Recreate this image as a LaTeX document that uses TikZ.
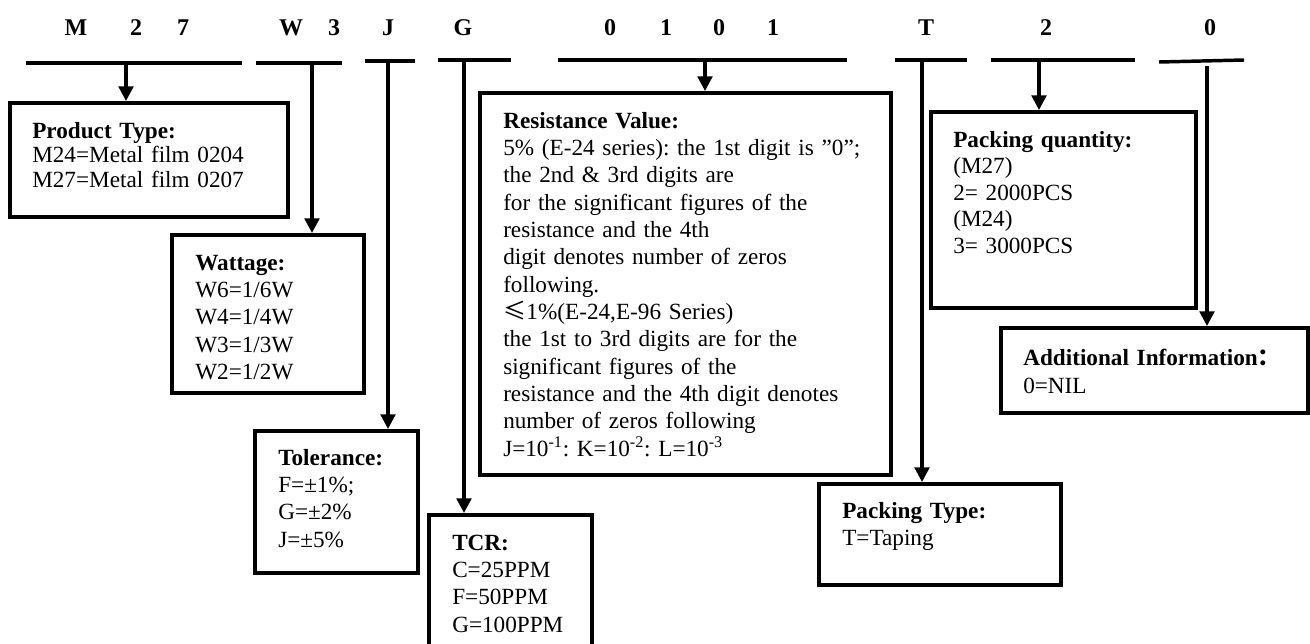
\documentclass[tikz,border=0pt]{standalone}
\usepackage{fontspec}
\setmainfont{Liberation Serif}
\newfontfamily\cjk{Noto Sans CJK SC}
\usetikzlibrary{arrows.meta,fit}
\frenchspacing
\begin{document}
\begin{tikzpicture}[x=0.75pt,y=-0.75pt,
  seg/.style={line width=2.6pt},
  box/.style={draw,line width=3pt,inner sep=0pt},
  arr/.style={line width=2.4pt,-{Triangle[width=11pt,length=11pt]}},
  txt/.style={anchor=base west,inner sep=0pt,text width=300pt,align=left,font=\fontsize{17.4}{20.5}\selectfont\frenchspacing},
  code/.style={font=\bfseries\fontsize{18}{20}\selectfont,inner sep=0pt,anchor=base}]
\useasboundingbox (0,0) rectangle (1310,643);
% code letters
\node[code] (l1) at (76,35) {M};
\node[code] (l2) at (136,35) {2};
\node[code] (l3) at (183,35) {7};
\node[code] (l4) at (291,35) {W};
\node[code] (l5) at (334,35) {3};
\node[code] (l6) at (388,35) {J};
\node[code] (l7) at (463,35) {G};
\node[code] (l8) at (610,35) {0};
\node[code] (l9) at (666,35) {1};
\node[code] (l10) at (719,35) {0};
\node[code] (l11) at (773,35) {1};
\node[code] (l12) at (926,35) {T};
\node[code] (l13) at (1046,35) {2};
\node[code] (l14) at (1210,35) {0};
% underline segments
\draw[seg] (26,63) -- (242,63);
\draw[seg] (256,63) -- (342,63);
\draw[seg] (365,61) -- (415,61);
\draw[seg] (438,60) -- (511,60);
\draw[seg] (558,60) -- (847,60);
\draw[seg] (895,60) -- (967,60);
\draw[seg] (991,60) -- (1135,60);
\draw[seg] (1159,62) -- (1244,60);
\coordinate (s1) at (126,63);
\coordinate (s2) at (312,63);
\coordinate (s3) at (388,61);
\coordinate (s4) at (464,60);
\coordinate (s5) at (705,60);
\coordinate (s6) at (922,60);
\coordinate (s7) at (1039,60);
\coordinate (s8) at (1207,66);
% boxes
\node[box,fit={(10,103) (288,217)}] (prod) {};
\node[box,fit={(172,235) (364,393)}] (watt) {};
\node[box,fit={(255,431) (418,573)}] (tol) {};
\node[box,fit={(429,515) (592,670)}] (tcr) {};
\node[box,fit={(480,93) (891,475)}] (res) {};
\node[box,fit={(819,484) (1061,585)}] (ptype) {};
\node[box,fit={(931,112) (1196,308)}] (pqty) {};
\node[box,fit={(1001,328) (1308,413)}] (add) {};
% connectors
\draw[arr] (s1) -- (s1 |- prod.north);
\draw[arr] (s2) -- (s2 |- watt.north);
\draw[arr] (s3) -- (s3 |- tol.north);
\draw[arr] (s4) -- (s4 |- tcr.north);
\draw[arr] (s5) -- (s5 |- res.north);
\draw[arr] (s6) -- (s6 |- ptype.north);
\draw[arr] (s7) -- (s7 |- pqty.north);
\draw[arr] (s8) -- (s8 |- add.north);
% texts
\node[txt,font=\fontsize{17.4}{18.4}\selectfont\frenchspacing] (tprod) at (32,138) {\textbf{Product Type:}\\M24=Metal film 0204\\M27=Metal film 0207};
\node[txt] (twatt) at (195,270) {\textbf{Wattage:}\\W6=1/6W\\W4=1/4W\\W3=1/3W\\W2=1/2W};
\node[txt] (ttol) at (278,465) {\textbf{Tolerance:}\\F=±1\%;\\G=±2\%\\J=±5\%};
\node[txt] (ttcr) at (452,550) {\textbf{TCR:}\\C=25PPM\\F=50PPM\\G=100PPM};
\node[txt] (tres) at (503,128) {\textbf{Resistance Value:}\\5\% (E-24 series): the 1st digit is ”0”;\\the 2nd \& 3rd digits are\\for the significant figures of the\\resistance and the 4th\\digit denotes number of zeros\\following.\\{\cjk ≤}1\%(E-24,E-96 Series)\\the 1st to 3rd digits are for the\\significant figures of the\\resistance and the 4th digit denotes\\number of zeros following\\J=10\textsuperscript{-1}: K=10\textsuperscript{-2}: L=10\textsuperscript{-3}};
\node[txt] (tptype) at (842,518) {\textbf{Packing Type:}\\T=Taping};
\node[txt,font=\fontsize{17.4}{19.9}\selectfont\frenchspacing] (tpqty) at (953,147) {\textbf{Packing quantity:}\\(M27)\\2= 2000PCS\\(M24)\\3= 3000PCS};
\node[txt,font=\fontsize{17.4}{21}\selectfont\frenchspacing] (tadd) at (1023,365) {\textbf{Additional Information}{\cjk\bfseries ：}\\0=NIL};
\end{tikzpicture}
\end{document}
